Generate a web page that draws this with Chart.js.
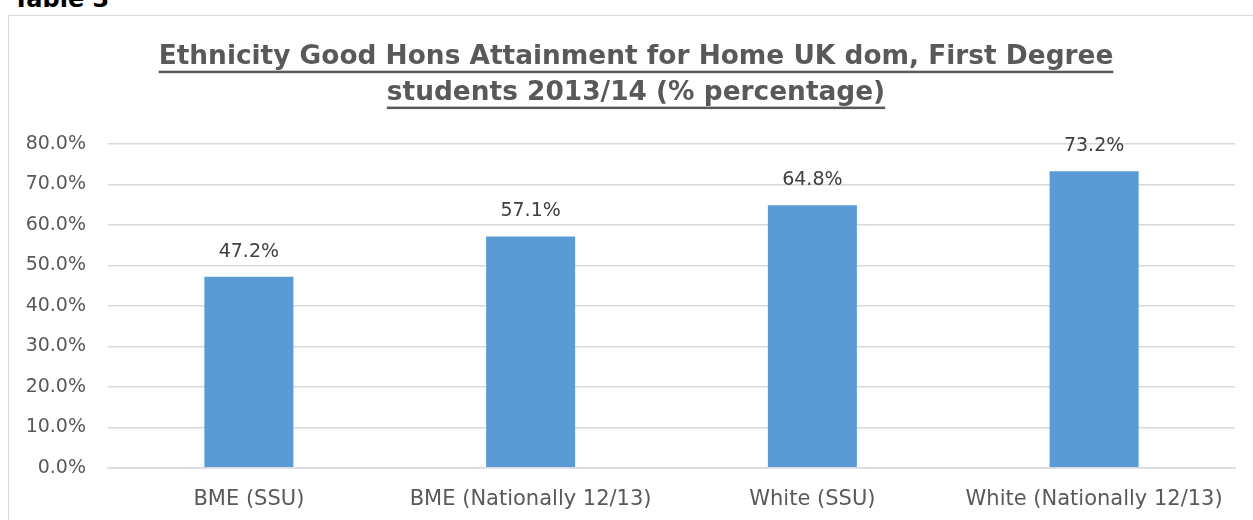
<!DOCTYPE html>
<html>
<head>
<meta charset="utf-8">
<title>Ethnicity Good Hons Attainment</title>
<script src="https://cdn.jsdelivr.net/npm/chart.js@4"></script>
<style>
  html, body { margin: 0; padding: 0; background: #fff; overflow: hidden; }
  body { width: 1253px; height: 520px; position: relative; }
  .caption {
    position: absolute; left: 13px; top: -15px;
    font: bold 24px "DejaVu Sans", sans-serif; color: #000;
  }
  .frame {
    position: absolute; left: 8px; top: 15px; width: 1260px; height: 520px;
    border: 1px solid #d9d9d9; box-sizing: border-box;
  }
  .wrap { position: absolute; left: 9px; top: 16px; width: 1254px; height: 527px; }
</style>
</head>
<body>
<div class="caption">Table 3</div>
<div class="frame"></div>
<div class="wrap"><canvas id="chart"></canvas></div>
<script>
const categories = ['BME (SSU)', 'BME (Nationally 12/13)', 'White (SSU)', 'White (Nationally 12/13)'];
const attainment = [47.2, 57.1, 64.8, 73.2];
const titleLines = ['Ethnicity Good Hons Attainment for Home UK dom, First Degree', 'students 2013/14 (% percentage)'];

const fontFamily = '"DejaVu Sans", sans-serif';

// centre the title on the whole canvas, not the padded box, and underline it
const underlineTitle = {
  id: 'underlineTitle',
  afterLayout(chart) {
    const t = chart.titleBlock;
    if (!t) return;
    t.left = 0;
    t.right = chart.width;
  },
  afterDraw(chart) {
    const t = chart.titleBlock;
    if (!t || !t.options.display) return;
    const ctx = chart.ctx;
    const font = Chart.helpers.toFont(t.options.font);
    const pad = Chart.helpers.toPadding(t.options.padding);
    const cx = (t.left + t.right) / 2;
    ctx.save();
    ctx.font = font.string;
    ctx.fillStyle = t.options.color;
    titleLines.forEach((line, i) => {
      const w = ctx.measureText(line).width;
      const y = t.top + pad.top + font.lineHeight / 2 + i * font.lineHeight + font.size * 0.52;
      ctx.fillRect(cx - w / 2, y, w, 2.5);
    });
    ctx.restore();
  }
};

// value labels above each bar
const valueLabels = {
  id: 'valueLabels',
  afterDatasetsDraw(chart) {
    const ctx = chart.ctx;
    const meta = chart.getDatasetMeta(0);
    ctx.save();
    ctx.font = '19px ' + fontFamily;
    ctx.fillStyle = '#404040';
    ctx.textAlign = 'center';
    ctx.textBaseline = 'middle';
    meta.data.forEach((bar, i) => {
      ctx.fillText(attainment[i].toFixed(1) + '%', bar.x, bar.y - 25);
    });
    ctx.restore();
  }
};

new Chart(document.getElementById('chart'), {
  type: 'bar',
  data: {
    labels: categories,
    datasets: [{
      data: attainment,
      backgroundColor: '#5b9bd5',
      borderWidth: 0,
      categoryPercentage: 1,
      barPercentage: 0.316
    }]
  },
  options: {
    responsive: true,
    maintainAspectRatio: false,
    animation: false,
    layout: { padding: { left: 17, right: 28, bottom: 12, top: 0 } },
    plugins: {
      legend: { display: false },
      tooltip: { enabled: false },
      title: {
        display: true,
        text: titleLines,
        color: '#595959',
        font: { family: fontFamily, size: 26.4, weight: 'bold', lineHeight: 1.36 },
        padding: { top: 23, bottom: 33 }
      }
    },
    scales: {
      x: {
        grid: { display: false, drawTicks: false },
        border: { display: true, color: '#d9d9d9', width: 1.5 },
        ticks: { color: '#595959', font: { family: fontFamily, size: 21 }, padding: 19, maxRotation: 0 }
      },
      y: {
        min: 0,
        max: 80,
        afterFit(scale) { scale.width = 82; },
        grid: { color: '#d9d9d9', lineWidth: 1.5, drawTicks: false },
        border: { display: false },
        ticks: {
          stepSize: 10,
          color: '#595959',
          font: { family: fontFamily, size: 19 },
          padding: 22,
          callback: v => v.toFixed(1) + '%'
        }
      }
    }
  },
  plugins: [underlineTitle, valueLabels]
});
</script>
</body>
</html>
